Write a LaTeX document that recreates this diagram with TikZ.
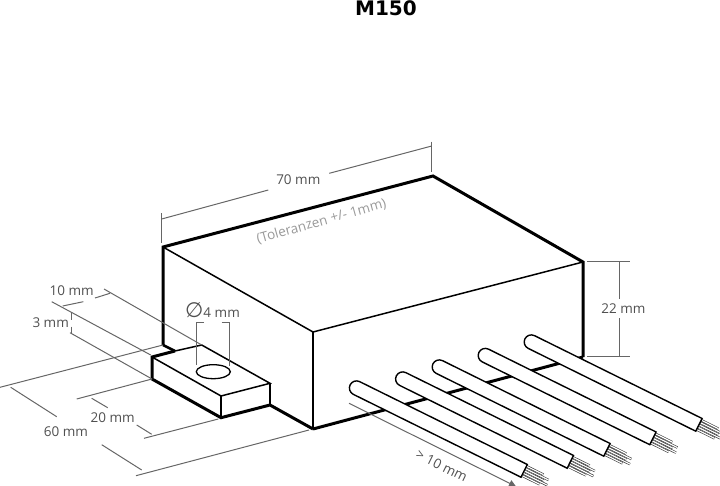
\documentclass[tikz,border=0pt]{standalone}
\usepackage{fontspec}
\setmainfont{Open Sans}
\newfontfamily\titlefont{DejaVu Sans}
\newfontfamily\symbfont{DejaVu Sans}
\usetikzlibrary{arrows.meta}
\definecolor{dimgrey}{HTML}{666666}
\definecolor{lblgrey}{HTML}{505050}
\definecolor{tolgrey}{HTML}{999999}
\def\wirelen{187}
\def\wirerad{7.1}
\tikzset{
    edge/.style = {draw=black, line width=3pt, line join=miter},
    fold/.style = {draw=black, line width=1.5pt, line join=miter},
    dim/.style = {draw=dimgrey, line width=1pt},
    lbl/.style = {text=lblgrey, font=\fontsize{13.5}{15}\selectfont, inner sep=0pt},
    strand/.style = {draw=black!80, line width=0.6pt, double=white, double distance=1.2pt},
    pics/Wire/.style = {
        code = {
            \foreach \y/\l in {-5.2/19, -2.6/26, 0/22, 2.6/27, 5.2/20}{
                \draw[strand] (\wirelen,\y) -- ++(\l,0);
            }
            \draw[fill=white, draw=black, line width=1.4pt] (0,-\wirerad) -- (\wirelen,-\wirerad) -- (\wirelen,\wirerad) -- (0,\wirerad) arc (90:270:\wirerad) -- cycle;
    }}
}
\begin{document}
\begin{tikzpicture}[x=1pt, y=-1pt]
        \useasboundingbox (0,0) rectangle (720,486);
        % Corners of the housing
        \coordinate (A) at (163,247);
        \coordinate (B) at (433,176);
        \coordinate (C) at (583,262);
        \coordinate (D) at (313,332);
        \coordinate (E) at (313,429);
        \coordinate (F) at (583,357);
        \coordinate (G) at (163,345);
        \coordinate (H) at (175,351);
        % Corners of the tab
        \coordinate (T1) at (152,357);
        \coordinate (T2) at (201.7,345);
        \coordinate (T3) at (270,383.3);
        \coordinate (T4) at (221,396);
        \coordinate (T5) at (152,379);
        \coordinate (T6) at (221,417.7);
        \coordinate (T7) at (270,405);
        % Housing
        \draw[fold] (A) -- (D) -- (C);
        \draw[fold] (D) -- (E);
        \draw[edge] (G) -- (A) -- (B) -- (C) -- (F);
        \draw[edge] (E) -- (F);
        \draw[edge, line width=2.6pt] (G) -- (H);
        % Tab
        \draw[fold] (T1) -- (T4) -- (T3) -- (T2) -- (H);
        \draw[fold] (T4) -- (T6);
        \draw[fold] (T3) -- (T7);
        \draw[edge] (H) -- (T1) -- (T5) -- (T6) -- (T7) -- (E);
        \draw[line width=1.3pt] (213.3,371.7) circle [x radius=17, y radius=7];
        % Dimensions on the left
        \draw[dim] (104,289) -- (T2);
        \draw[dim] (51.7,301.7) -- (150.7,355);
        \draw[dim] (70,332.7) -- (T5);
        \draw[dim] (0,387.3) -- (G);
        \draw[dim] (76.7,399) -- (T5);
        \draw[dim] (144,438.3) -- (218.3,419);
        \draw[dim] (136,475.7) -- (309,430);
        \draw[dim] (62.7,306) -- (83.3,301.7);
        \draw[dim] (95,298) -- (110,293.3);
        \draw[dim] (71.7,313.3) -- (71.7,320);
        \draw[dim] (71.7,326.5) -- (71.7,333);
        \draw[dim] (10.7,387.3) -- (56.7,416.7);
        \draw[dim] (101.7,444.7) -- (141.7,470);
        \draw[dim] (91.7,398.3) -- (107.7,407.7);
        \draw[dim] (136.7,425) -- (151.7,434.3);
        \draw[dim] (204,322.7) -| (196.7,365);
        \draw[dim] (221.7,322.7) -| (229.7,366);
        % Dimensions on top and on the right
        \draw[dim] (161.7,213.3) -- (161.7,243);
        \draw[dim] (431,141.7) -- (431,172.3);
        \draw[dim] (161.7,219) -- (268.3,190);
        \draw[dim] (329.3,173.3) -- (431,146.2);
        \draw[dim] (587,262) -- (630,262);
        \draw[dim] (587,356.7) -- (630,356.7);
        \draw[dim] (619.5,262) -- (619.5,299);
        \draw[dim] (619.5,318) -- (619.5,356.7);
        \draw[dim, -{Triangle[width=7pt,length=7pt]}] (349,403.3) -- (516,486.5);
        % Wires
        \foreach \x/\p in {1/{356.5,388}, 2/{402.7,379}, 3/{439.3,367}, 4/{485.3,355.5}, 5/{531.3,342}}{
            \path (\p) pic[rotate=-26.3] (wire\x) {Wire};
        }
        % Labels
        \node[font=\titlefont\bfseries\fontsize{20}{22}\selectfont, inner sep=0pt] (title) at (386,8.5) {M150};
        \node[lbl] (l70) at (298.3,180) {70 mm};
        \node[lbl, text=tolgrey, rotate=15.7, font=\fontsize{13.5}{15}\selectfont] (ltol) at (321.5,221.5) {(Toleranzen +/- 1mm)};
        \node[lbl] (l22) at (623.5,308.5) {22 mm};
        \node[lbl] (l10) at (71.7,291) {10 mm};
        \node[lbl] (l3) at (50.7,322.7) {3 mm};
        \node[lbl] (l20) at (112.7,417.3) {20 mm};
        \node[lbl] (l60) at (66,431.3) {60 mm};
        \node[lbl] (lhole) at (212.5,310) {{\symbfont\fontsize{21}{21}\selectfont ∅}4 mm};
        \node[lbl, rotate=-26.3] (lwire) at (441.7,465.7) {> 10 mm};
    \end{tikzpicture}
\end{document}
